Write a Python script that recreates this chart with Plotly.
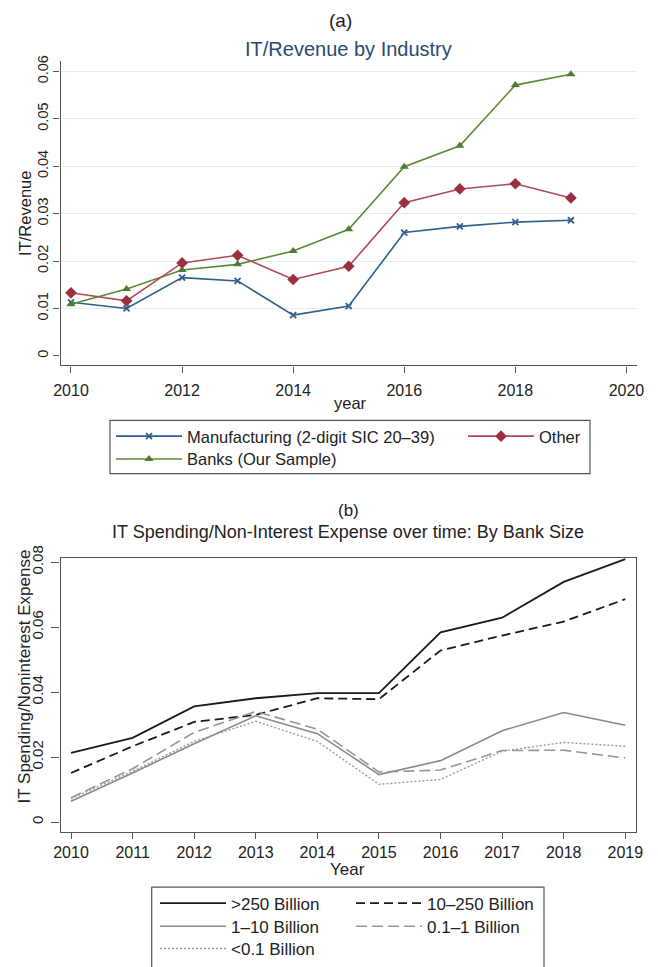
import plotly.graph_objects as go

W, H = 658, 967

# ---- data -------------------------------------------------------------
years = [2010, 2011, 2012, 2013, 2014, 2015, 2016, 2017, 2018, 2019]

manufacturing = [0.0113, 0.0100, 0.0165, 0.0158, 0.0086, 0.0105, 0.0260, 0.0273, 0.0282, 0.0286]
other = [0.0133, 0.0116, 0.0196, 0.0212, 0.0161, 0.0189, 0.0323, 0.0352, 0.0363, 0.0333]
banks = [0.0109, 0.0141, 0.0181, 0.0193, 0.0221, 0.0267, 0.0399, 0.0443, 0.0571, 0.0594]

size_gt250 = [0.0213, 0.0259, 0.0356, 0.0381, 0.0397, 0.0397, 0.0584, 0.0629, 0.0739, 0.0809]
size_10_250 = [0.0151, 0.0233, 0.0308, 0.0330, 0.0381, 0.0378, 0.0528, 0.0574, 0.0617, 0.0686]
size_1_10 = [0.0064, 0.0151, 0.0241, 0.0327, 0.0272, 0.0146, 0.0189, 0.0281, 0.0337, 0.0298]
size_01_1 = [0.0075, 0.0164, 0.0276, 0.0340, 0.0286, 0.0154, 0.0160, 0.0220, 0.0221, 0.0197]
size_lt01 = [0.0072, 0.0156, 0.0248, 0.0310, 0.0248, 0.0116, 0.0131, 0.0218, 0.0245, 0.0233]

top_yticks = [0, 0.01, 0.02, 0.03, 0.04, 0.05, 0.06]
top_ytick_text = ["0", "0.01", "0.02", "0.03", "0.04", "0.05", "0.06"]
top_xticks = [2010, 2012, 2014, 2016, 2018, 2020]
bot_yticks = [0, 0.02, 0.04, 0.06, 0.08]
bot_ytick_text = ["0", "0.02", "0.04", "0.06", "0.08"]

FONT = "Liberation Sans, Arial, Helvetica, sans-serif"
AXIS_COL = "#555555"
TXT_COL = "#222222"


def px(x):
    return x / W


def py(y):
    return 1 - y / H


fig = go.Figure()

# ---- panel (a): IT/Revenue by industry ---------------------------------
fig.add_trace(go.Scatter(
    x=years, y=manufacturing, name="Manufacturing (2-digit SIC 20\u201339)",
    mode="lines+markers", xaxis="x", yaxis="y", legend="legend",
    line=dict(color="#2f5f8c", width=1.6),
    marker=dict(symbol="x-thin", size=6, line=dict(color="#2f5f8c", width=1.8)),
))
fig.add_trace(go.Scatter(
    x=years, y=banks, name="Banks (Our Sample)",
    mode="lines+markers", xaxis="x", yaxis="y", legend="legend2",
    line=dict(color="#5b8a3a", width=1.6),
    marker=dict(symbol="triangle-up", size=8, color="#4f7d30"),
))
fig.add_trace(go.Scatter(
    x=years, y=other, name="Other",
    mode="lines+markers", xaxis="x", yaxis="y", legend="legend3",
    line=dict(color="#b04a58", width=1.6),
    marker=dict(symbol="diamond", size=9, color="#9c2f3e"),
))

# ---- panel (b): IT spending by bank size -------------------------------
fig.add_trace(go.Scatter(
    x=years, y=size_gt250, name=">250 Billion", mode="lines",
    xaxis="x2", yaxis="y2", legend="legend4",
    line=dict(color="#1a1a1a", width=1.8),
))
fig.add_trace(go.Scatter(
    x=years, y=size_1_10, name="1\u201310 Billion", mode="lines",
    xaxis="x2", yaxis="y2", legend="legend5",
    line=dict(color="#8a8a8a", width=1.6),
))
fig.add_trace(go.Scatter(
    x=years, y=size_lt01, name="<0.1 Billion", mode="lines",
    xaxis="x2", yaxis="y2", legend="legend6",
    line=dict(color="#9a9a9a", width=1.4, dash="2px,2px"),
))
fig.add_trace(go.Scatter(
    x=years, y=size_10_250, name="10\u2013250 Billion", mode="lines",
    xaxis="x2", yaxis="y2", legend="legend7",
    line=dict(color="#1a1a1a", width=1.8, dash="9px,5px"),
))
fig.add_trace(go.Scatter(
    x=years, y=size_01_1, name="0.1\u20131 Billion", mode="lines",
    xaxis="x2", yaxis="y2", legend="legend8",
    line=dict(color="#959595", width=1.6, dash="11px,5px"),
))

axis_common = dict(
    showline=True, linecolor=AXIS_COL, linewidth=1.3,
    ticks="outside", ticklen=6, tickwidth=1.2, tickcolor=AXIS_COL,
    zeroline=False, showgrid=False, automargin=False,
)


def legend_at(x_left, y_mid, size):
    # one legend row, its entry centred vertically on y_mid
    return dict(
        xref="paper", yref="paper", xanchor="left", yanchor="middle",
        x=px(x_left), y=py(y_mid),
        bgcolor="rgba(0,0,0,0)", borderwidth=0, itemwidth=66,
        itemclick=False, itemdoubleclick=False,
        font=dict(size=size, color=TXT_COL),
    )


annotations = [
    dict(text="(a)", x=px(341), y=py(21), font=dict(size=19, color=TXT_COL)),
    dict(text="IT/Revenue by Industry", x=px(348), y=py(49), font=dict(size=20, color="#2a4a72")),
    dict(text="year", x=px(350), y=py(405), font=dict(size=16.5, color=TXT_COL)),
    dict(text="IT/Revenue", x=px(25), y=py(215), textangle=-90, font=dict(size=16.5, color=TXT_COL)),
    dict(text="(b)", x=px(349), y=py(513), font=dict(size=17, color=TXT_COL)),
    dict(text="IT Spending/Non-Interest Expense over time: By Bank Size", x=px(348), y=py(534.5),
         font=dict(size=18, color=TXT_COL)),
    dict(text="Year", x=px(347), y=py(874), font=dict(size=17, color=TXT_COL)),
    dict(text="IT Spending/Noninterest Expense", x=px(24), y=py(680), textangle=-90,
         font=dict(size=17, color=TXT_COL)),
]
for a in annotations:
    a.update(xref="paper", yref="paper", showarrow=False, xanchor="center", yanchor="middle")

fig.update_layout(
    width=W, height=H,
    margin=dict(l=0, r=0, t=0, b=0),
    paper_bgcolor="white", plot_bgcolor="white",
    font=dict(family=FONT, color=TXT_COL),
    showlegend=True,
    xaxis=dict(axis_common, domain=[px(60.6), px(637)], anchor="y",
               range=[2009.813, 2020.19], tickvals=top_xticks,
               tickfont=dict(size=16), ticklabelstandoff=4),
    yaxis=dict(axis_common, domain=[py(367.3), py(61.7)], anchor="x",
               range=[-0.00201, 0.0621], tickvals=top_yticks, ticktext=top_ytick_text,
               tickangle=-90, tickfont=dict(size=14.5),
               minor=dict(tickvals=top_yticks[1:], showgrid=True, gridcolor="#e4edf0",
                          gridwidth=1, ticks="")),
    xaxis2=dict(axis_common, domain=[px(60.6), px(635.7)], anchor="y2", mirror=True,
                range=[2009.831, 2019.169], tickvals=years, tickfont=dict(size=16)),
    yaxis2=dict(axis_common, domain=[py(836), py(561)], anchor="x2", mirror=True,
                range=[-0.00297, 0.08123], tickvals=bot_yticks, ticktext=bot_ytick_text,
                tickangle=-90, tickfont=dict(size=15), ticklen=8, ticklabelstandoff=2),
    legend=legend_at(111, 438.7, 16.5),
    legend2=legend_at(111, 461.7, 16.5),
    legend3=legend_at(463, 438.7, 16.5),
    legend4=legend_at(155, 908.3, 17),
    legend5=legend_at(155, 931.5, 17),
    legend6=legend_at(155, 954.2, 17),
    legend7=legend_at(351, 908.3, 17),
    legend8=legend_at(351, 931.5, 17),
    annotations=annotations,
    shapes=[
        dict(type="rect", xref="paper", yref="paper",
             x0=px(110), x1=px(590), y0=py(476), y1=py(422.5),
             line=dict(color="#555555", width=1.2)),
        dict(type="rect", xref="paper", yref="paper",
             x0=px(151.7), x1=px(544), y0=py(975), y1=py(891.7),
             line=dict(color="#555555", width=1.2)),
    ],
)

fig.write_html("out.html")
